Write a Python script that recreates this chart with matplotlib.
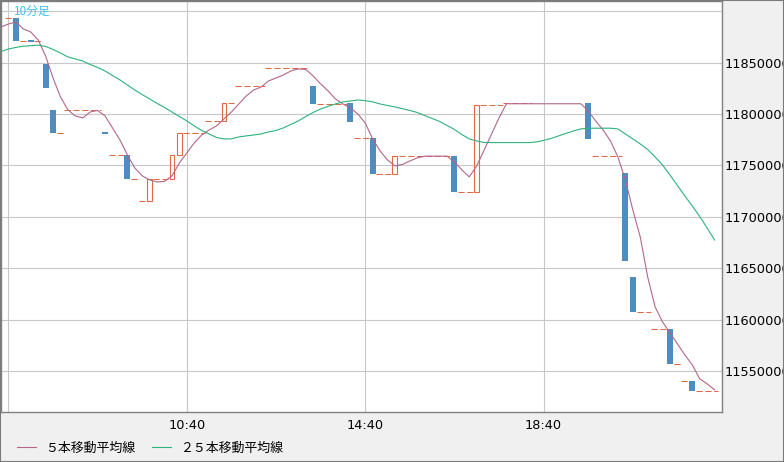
import numpy as np
import matplotlib.pyplot as plt
from matplotlib.lines import Line2D
from matplotlib.patches import Rectangle

# 10-minute bars, slot 0 = 06:40
tick_slots = [0, 24, 48, 72]
tick_labels = ['', '10:40', '14:40', '18:40']
price_ticks = [11550000, 11600000, 11650000, 11700000, 11750000,
               11800000, 11850000, 11900000]
price_labels = ['11550000', '11600000', '11650000', '11700000', '11750000',
                '11800000', '11850000', '']

# traded bars
candle_slot = [1, 3, 5, 6, 13, 16, 19, 22, 23, 29, 41,
               46, 49, 52, 60, 63, 78, 83, 84, 89, 92]
candle_open = [11893500, 11872000, 11848700, 11804000, 11782500, 11760000,
               11715000, 11737000, 11760000, 11793000, 11827000, 11811000,
               11776500, 11742000, 11759000, 11724000, 11810800, 11742700,
               11641500, 11590500, 11540000]
candle_close = [11871400, 11870500, 11825700, 11782000, 11781000, 11737000,
                11737000, 11760000, 11782000, 11810500, 11810000, 11792000,
                11742000, 11759000, 11724000, 11809000, 11776000, 11657000,
                11607000, 11556500, 11530000]

# quote-only slots (dashed)
quote_slot = [0, 2, 4, 7, 8, 9, 10, 11, 12, 14, 15, 17, 18, 20, 21,
              24, 25, 26, 27, 28, 30, 31, 32, 33, 34,
              35, 36, 37, 38, 39, 40, 42, 43, 44, 45, 47, 48, 50, 51,
              53, 54, 55, 56, 57, 58, 59, 61, 62, 64, 65, 66,
              67, 68, 69, 70, 79, 80, 81, 82, 85, 86, 87, 88, 90, 91,
              93, 94, 95]
quote_price = [11893000, 11871400, 11871400, 11782000,
               11804000, 11804000, 11804000, 11804000, 11804000,
               11760000, 11760000, 11737000, 11715000, 11737000, 11737000,
               11782000, 11782000, 11782000, 11793000, 11793000, 11810500,
               11827000, 11827000, 11827000, 11827000,
               11844500, 11844500, 11844500, 11844500, 11844500, 11844500,
               11810000, 11810000, 11810000, 11810000, 11776500, 11776500,
               11742000, 11742000,
               11759000, 11759000, 11759000, 11759000, 11759000, 11759000,
               11759000, 11724000, 11724000, 11809000, 11809000, 11809000,
               11810300, 11810300, 11810300, 11810300,
               11759000, 11759000, 11759000, 11759000, 11607000, 11607000,
               11590500, 11590500, 11556500, 11540000,
               11530000, 11530000, 11530000]

# moving averages, slots -1 .. 95
ma5 = [11884700,
       11887600, 11889600, 11882800, 11879900, 11872100, 11856500, 11835100, 11816600, 11804000, 11798100,
       11796200, 11802000, 11803500, 11798100, 11786500, 11774800, 11760200, 11747500, 11739800, 11735900,
       11733900, 11734400, 11739800, 11752400, 11762100, 11771900, 11779600, 11784500, 11788400, 11795200,
       11802000, 11809800, 11817600, 11823400, 11826300, 11832200, 11835100, 11838000, 11841900, 11843900,
       11843400, 11837000, 11829300, 11822500, 11814700, 11809800, 11805900, 11800100, 11791300, 11775700,
       11764100, 11755300, 11749500, 11750900, 11754300, 11757300, 11759000, 11759000, 11759000, 11759000,
       11753400, 11745600, 11738800, 11749500, 11765000, 11780600, 11796200, 11810000, 11810000, 11810000,
       11810000, 11810000, 11810000, 11810000, 11810000, 11810000, 11810000, 11810000, 11803000, 11793300,
       11784500, 11773800, 11758200, 11735900, 11706700, 11680400, 11641500, 11612300, 11597700, 11587000,
       11576300, 11565600, 11555900, 11542300, 11537400, 11531600]
ma25 = [11860900,
        11863300, 11864800, 11866000, 11866500, 11867000, 11865800, 11862800, 11859400, 11855600, 11853600,
        11851600, 11848200, 11845300, 11841900, 11837500, 11833200, 11828300, 11823400, 11818900, 11814700,
        11810300, 11806400, 11802000, 11797600, 11793300, 11788400, 11784000, 11780600, 11777200, 11775800,
        11775800, 11777700, 11778700, 11779600, 11780600, 11782600, 11784000, 11786500, 11789900, 11793300,
        11797600, 11801500, 11804900, 11807400, 11809800, 11811800, 11812700, 11813700, 11813000, 11811800,
        11809800, 11808300, 11806900, 11805200, 11803500, 11801500, 11798600, 11795700, 11792800, 11788900,
        11785000, 11780100, 11775800, 11773800, 11772300, 11772200, 11772200, 11772200, 11772200, 11772200,
        11772200, 11772800, 11774300, 11776200, 11778700, 11781100, 11783500, 11785500, 11786200, 11786200,
        11786200, 11786200, 11785500, 11780600, 11775800, 11770900, 11765500, 11758200, 11750400, 11740700,
        11730500, 11720300, 11710500, 11700300, 11689100, 11677400]
ma_slot = np.arange(-1, 96)

BLUE = '#4f8cc0'
RED = '#e0694a'
C5 = '#b3668a'
C25 = '#2cb27c'
JP = ['Noto Sans CJK JP', 'DejaVu Sans']

fig = plt.figure(figsize=(7.84, 4.62), dpi=100, facecolor='#f0f0f0')
ax = fig.add_axes([1 / 784, 50 / 462, 721 / 784, 411 / 462])
ax.set_facecolor('white')

# dashed quote runs
runs = []
for s, p in zip(quote_slot, quote_price):
    if runs and runs[-1][1] == s - 1 and runs[-1][2] == p:
        runs[-1][1] = s
    else:
        runs.append([s, s, p])
for a, b, p in runs:
    ax.plot([a - 0.5, b + 0.5], [p, p], color=RED, lw=0.75,
            linestyle=(0, (6, 2.5)), zorder=2)

# candles
for s, o, c in zip(candle_slot, candle_open, candle_close):
    if c < o:
        ax.bar(s, o - c, bottom=c, width=0.8, color=BLUE, lw=0, zorder=3)
    else:
        ax.bar(s, c - o, bottom=o, width=0.66, fill=False,
               edgecolor=RED, lw=0.8, zorder=3)

l5, = ax.plot(ma_slot, ma5, color=C5, lw=0.8, zorder=4)
l25, = ax.plot(ma_slot, ma25, color=C25, lw=0.8, zorder=4)

ax.set_xlim(-1, 96)
ax.set_ylim(11510000, 11910000)
ax.set_xticks(tick_slots)
ax.set_xticklabels(tick_labels)
ax.set_yticks(price_ticks)
ax.set_yticklabels(price_labels)
ax.yaxis.tick_right()
ax.tick_params(axis='y', length=0, pad=2, labelsize=9.3)
ax.tick_params(axis='x', length=0, pad=5, labelsize=9.3)
ax.grid(True, color='#c8c8c8', lw=0.8)
ax.set_axisbelow(True)
for sp in ax.spines.values():
    sp.set_color('#808080')
    sp.set_linewidth(1)

fig.text(14 / 784, 1 - 11 / 462, '10分足', color='#3cc3f0', fontsize=8.5,
         family=JP, ha='left', va='center')

fig.legend([l5, l25], ['５本移動平均線', '２５本移動平均線'],
           loc='center left', bbox_to_anchor=(17 / 784, (462 - 448) / 462),
           frameon=False, ncol=2, borderpad=0, borderaxespad=0,
           handlelength=19 / 12.9, handletextpad=9 / 12.9,
           columnspacing=17 / 12.9, prop={'family': JP, 'size': 9.3})

fig.patches.append(Rectangle((0, 0), 1, 1, transform=fig.transFigure,
                             fill=False, edgecolor='#7a7a7a', lw=1.5))

fig.savefig('out.png', dpi=100, facecolor=fig.get_facecolor())
